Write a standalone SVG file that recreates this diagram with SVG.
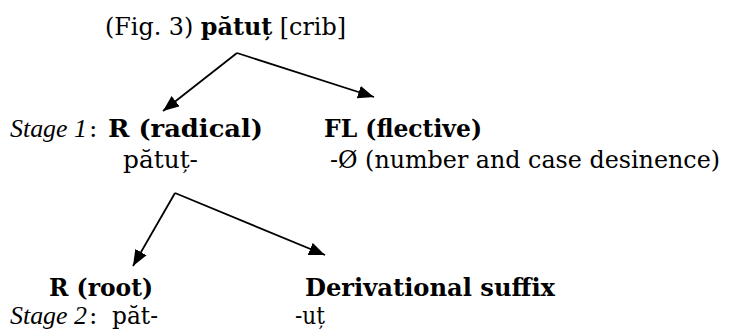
<svg xmlns="http://www.w3.org/2000/svg" width="733" height="331" viewBox="0 0 733 331">
  <style>
    text { font-family: "DejaVu Serif", "Liberation Serif", serif; font-size: 25px; fill: #000; }
    .b { font-weight: bold; }
    .i { font-family: "Liberation Serif", "DejaVu Serif", serif; font-style: italic; font-size: 26px; }
    .long { font-size: 24px; }
    .edge { stroke: #000; stroke-width: 1.8; fill: none; marker-end: url(#head); }
  </style>
  <defs>
    <marker id="head" markerUnits="userSpaceOnUse" markerWidth="17" markerHeight="13" refX="16" refY="6.5" orient="auto">
      <path d="M0,0 L16,6.5 L0,13 z" fill="#000"/>
    </marker>
  </defs>

  <!-- word being segmented -->
  <g id="word">
    <text x="105" y="35" textLength="241" lengthAdjust="spacingAndGlyphs">(Fig. 3) <tspan class="b">pătuț</tspan> [crib]</text>
  </g>

  <!-- stage 1: radical + flective -->
  <g id="stage1-label">
    <text class="i" x="10" y="137" textLength="77" lengthAdjust="spacingAndGlyphs">Stage 1</text>
    <text x="89" y="137">:</text>
  </g>
  <g id="radical">
    <text class="b" x="108" y="137" textLength="155" lengthAdjust="spacingAndGlyphs">R (radical)</text>
    <text x="123" y="168" textLength="75" lengthAdjust="spacingAndGlyphs">pătuț-</text>
  </g>
  <g id="flective">
    <text class="b" x="324" y="137" textLength="158" lengthAdjust="spacingAndGlyphs">FL (flective)</text>
    <text class="long" x="330" y="168" textLength="390" lengthAdjust="spacingAndGlyphs">-Ø (number and case desinence)</text>
  </g>

  <!-- stage 2: root + derivational suffix -->
  <g id="root">
    <text class="b" x="49" y="296" textLength="104" lengthAdjust="spacingAndGlyphs">R (root)</text>
  </g>
  <g id="stage2-label">
    <text class="i" x="10" y="324" textLength="77" lengthAdjust="spacingAndGlyphs">Stage 2</text>
    <text x="89" y="324">:</text>
    <text x="112" y="324" textLength="46" lengthAdjust="spacingAndGlyphs">păt-</text>
  </g>
  <g id="suffix">
    <text class="b" x="305" y="296" textLength="250" lengthAdjust="spacingAndGlyphs">Derivational suffix</text>
    <text x="295" y="324" textLength="30" lengthAdjust="spacingAndGlyphs">-uț</text>
  </g>

  <!-- connectors -->
  <g id="connectors">
    <polyline class="edge" points="237,53 163,111"/>
    <polyline class="edge" points="237,53 374,97"/>
    <polyline class="edge" points="175,193 133,266"/>
    <polyline class="edge" points="175,193 325,255"/>
  </g>
</svg>
